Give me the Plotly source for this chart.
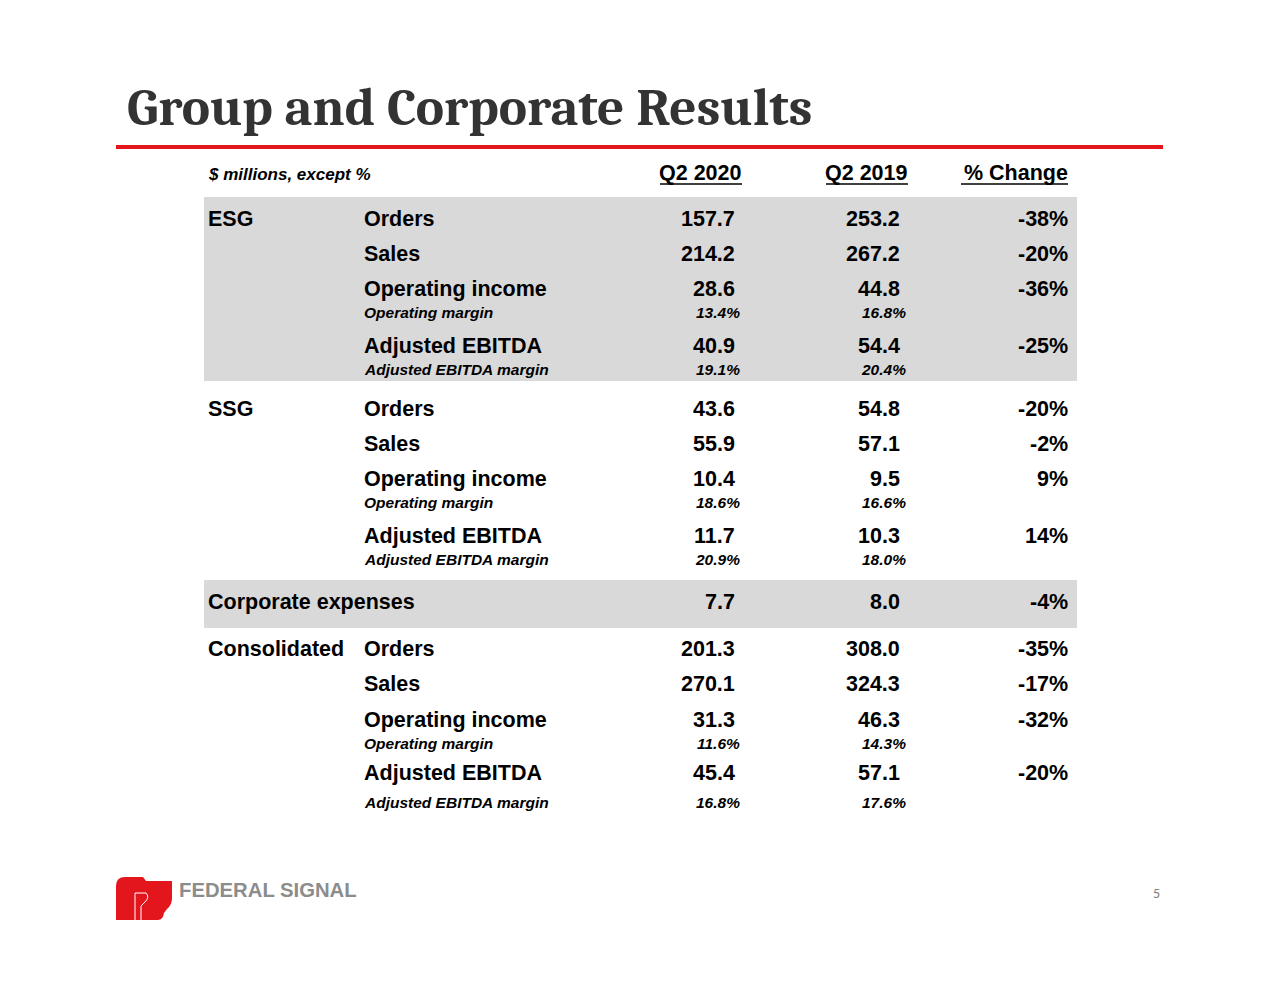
import plotly.graph_objects as go

# ---------------- data ----------------
title_text = "Group and Corporate Results"
units_label = "$ millions, except %"
col_headers = ["Q2 2020", "Q2 2019", "% Change"]
page_number = "5"
logo_text = "FEDERAL SIGNAL"

metrics = ["Orders", "Sales", "Operating income", "Operating margin",
           "Adjusted EBITDA", "Adjusted EBITDA margin"]
is_margin = [False, False, False, True, False, True]

esg_q2_2020 = [157.7, 214.2, 28.6, 13.4, 40.9, 19.1]
esg_q2_2019 = [253.2, 267.2, 44.8, 16.8, 54.4, 20.4]
esg_change = [-38, -20, -36, None, -25, None]

ssg_q2_2020 = [43.6, 55.9, 10.4, 18.6, 11.7, 20.9]
ssg_q2_2019 = [54.8, 57.1, 9.5, 16.6, 10.3, 18.0]
ssg_change = [-20, -2, 9, None, 14, None]

corp_label = "Corporate expenses"
corp_q2_2020 = 7.7
corp_q2_2019 = 8.0
corp_change = -4

cons_q2_2020 = [201.3, 270.1, 31.3, 11.6, 45.4, 16.8]
cons_q2_2019 = [308.0, 324.3, 46.3, 14.3, 57.1, 17.6]
cons_change = [-35, -17, -32, None, -20, None]

groups = ["ESG", "SSG", "Consolidated"]

# ---------------- layout constants ----------------
W, H = 1280, 989
SANS = "Arial, Liberation Sans, sans-serif"
SERIF = "Cambria, Liberation Serif, serif"
TXT = "#000000"
GRAY_BAND = "#d9d9d9"
RED = "#e3161e"

X_GROUP = 207
X_METRIC = 363
X_C1 = 736   # right edge big values col 1
X_C2 = 901
X_C3 = 1069
MARGIN_SHIFT = 5
BIG = 21.5
SMALL = 15.5

# row centre positions for each block (metric rows)
esg_rows = [219, 254, 289, 312, 346, 369]
ssg_rows = [409, 444, 479, 502, 536, 559]
corp_row = 602
cons_rows = [649, 684, 720, 743, 773, 802]

fig = go.Figure()
fig.add_trace(go.Scatter(x=[0, W], y=[0, H], mode="markers",
                         marker=dict(opacity=0), hoverinfo="skip", showlegend=False))

ann = []
shapes = []


def add_text(x, y, text, size, anchor="left", bold=True, italic=False,
             color=TXT, family=SANS):
    t = text
    if italic:
        t = "<i>" + t + "</i>"
    if bold:
        t = "<b>" + t + "</b>"
    ann.append(dict(x=x, y=y, xref="x", yref="y", text=t, showarrow=False,
                    xanchor=anchor, yanchor="middle", borderpad=0,
                    font=dict(family=family, size=size, color=color)))


# title
add_text(126, 107, title_text, 53.3, family=SERIF, color="#333333")
shapes.append(dict(type="line", xref="x", yref="y", x0=116, x1=1163, y0=147, y1=147,
                   line=dict(color=RED, width=4)))

# header
add_text(X_GROUP, 174, units_label, 17, italic=True)
header_right = [743, 909, 1069]
for h, xr in zip(col_headers, header_right):
    add_text(xr, 173, h, BIG, anchor="right")
header_widths = [82, 82, 107]
for xr, w in zip(header_right, header_widths):
    shapes.append(dict(type="line", xref="x", yref="y", x0=xr - w - 1, x1=xr - 1,
                       y0=184, y1=184, line=dict(color=TXT, width=1.6)))

# shaded bands
shapes.append(dict(type="rect", xref="x", yref="y", x0=204, x1=1077, y0=197, y1=381,
                   fillcolor=GRAY_BAND, line=dict(width=0), layer="below"))
shapes.append(dict(type="rect", xref="x", yref="y", x0=204, x1=1077, y0=580, y1=628,
                   fillcolor=GRAY_BAND, line=dict(width=0), layer="below"))


def block(name, rows, v20, v19, chg):
    add_text(X_GROUP, rows[0], name, BIG)
    for m, mg, y, a, b, c in zip(metrics, is_margin, rows, v20, v19, chg):
        if mg:
            add_text(X_METRIC, y, m, SMALL, italic=True)
            add_text(X_C1 + MARGIN_SHIFT, y, f"{a:.1f}%", SMALL, anchor="right", italic=True)
            add_text(X_C2 + MARGIN_SHIFT + 1, y, f"{b:.1f}%", SMALL, anchor="right", italic=True)
        else:
            add_text(X_METRIC, y, m, BIG)
            add_text(X_C1, y, f"{a:.1f}", BIG, anchor="right")
            add_text(X_C2, y, f"{b:.1f}", BIG, anchor="right")
            if c is not None:
                add_text(X_C3, y, f"{c:d}%", BIG, anchor="right")


block(groups[0], esg_rows, esg_q2_2020, esg_q2_2019, esg_change)
block(groups[1], ssg_rows, ssg_q2_2020, ssg_q2_2019, ssg_change)
add_text(X_GROUP, corp_row, corp_label, BIG)
add_text(X_C1, corp_row, f"{corp_q2_2020:.1f}", BIG, anchor="right")
add_text(X_C2, corp_row, f"{corp_q2_2019:.1f}", BIG, anchor="right")
add_text(X_C3, corp_row, f"{corp_change:d}%", BIG, anchor="right")
block(groups[2], cons_rows, cons_q2_2020, cons_q2_2019, cons_change)

# logo (approximate "fs" monogram)
shapes.append(dict(type="path", xref="x", yref="y",
                   path="M116,920 L116,886 Q116,877 125,877 L143,877 L146,881 "
                        "L172,881 L172,898 Q172,905 167,909 L164,913 "
                        "Q163,920 158,920 Z",
                   fillcolor=RED, line=dict(width=0)))
shapes.append(dict(type="path", xref="x", yref="y",
                   path="M135,920 L135,893 L146,893 Q150,897 145,902 L141,906 L141,920",
                   line=dict(color="white", width=1)))
add_text(178, 890, logo_text, 20.3,
         family="Liberation Sans Narrow, Arial Narrow, Arial, sans-serif", color="#8c8c8c")

add_text(1161, 893, page_number, 14, anchor="right", bold=False,
         family="Calibri, Carlito, Open Sans, sans-serif", color="#7f7f7f")

fig.update_layout(
    width=W, height=H, margin=dict(l=0, r=0, t=0, b=0),
    paper_bgcolor="white", plot_bgcolor="white",
    xaxis=dict(range=[0, W], visible=False, fixedrange=True),
    yaxis=dict(range=[H, 0], visible=False, fixedrange=True),
    annotations=ann, shapes=shapes, showlegend=False,
)

fig.write_html("out.html", config={"displayModeBar": False},
               post_script="document.body.style.margin='0';")
